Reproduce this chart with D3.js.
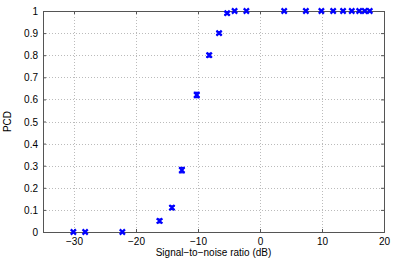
<!DOCTYPE html>
<html><head><meta charset="utf-8">
<script src="https://cdn.jsdelivr.net/npm/d3@7"></script>
<style>body{margin:0;background:#fff}svg{display:block}text{font-family:"Liberation Sans",Arial,sans-serif;fill:#000}</style>
</head><body><svg id="c" width="398" height="266"></svg>
<script>
const snr = [-30.1,-28.2,-22.2,-16.2,-14.2,-12.6,-10.2,-8.2,-6.6,-5.3,-4.1,-2.2,3.9,7.4,9.9,11.8,13.4,14.8,16.0,16.9,17.7];
const pcd = [0,0,0,0.05,0.11,0.28,0.62,0.80,0.90,0.99,1,1,1,1,1,1,1,1,1,1,1];
const err = [0,0,0,0.008,0.008,0.012,0.012,0.008,0.006,0.006,0,0,0,0,0,0,0,0,0,0,0];
const xTicks = [-30,-20,-10,0,10,20];
const yTicks = [0,0.1,0.2,0.3,0.4,0.5,0.6,0.7,0.8,0.9,1];
const xLabel = "Signal\u2212to\u2212noise ratio (dB)";
const yLabel = "PCD";

const L=43,R=384,T=11,B=232;
const svg=d3.select("#c");
const x=d3.scaleLinear().domain([-35,20]).range([L,R]);
const y=d3.scaleLinear().domain([0,1]).range([B,T]);
const fmtX=d=>d<0?"\u2212"+Math.abs(d):String(d);
const fmtY=d=>d===0?"0":d===1?"1":d3.format(".1f")(d);

// grid
const g=svg.append("g");
g.selectAll(".gx").data(xTicks.filter(d=>d<20)).join("line")
 .attr("x1",d=>Math.round(x(d))+0.5).attr("x2",d=>Math.round(x(d))+0.5).attr("y1",T).attr("y2",B)
 .attr("stroke","#bbb").attr("stroke-dasharray","1,2");
g.selectAll(".gy").data(yTicks.filter(d=>d>0&&d<1)).join("line")
 .attr("y1",d=>Math.round(y(d))+0.5).attr("y2",d=>Math.round(y(d))+0.5).attr("x1",L).attr("x2",R)
 .attr("stroke","#bbb").attr("stroke-dasharray","1,2");

// axes
const ax=svg.append("g").attr("transform",`translate(0,${B})`)
 .call(d3.axisBottom(x).tickValues(xTicks).tickSize(-3).tickPadding(6).tickFormat(fmtX));
const ay=svg.append("g").attr("transform",`translate(${L},0)`)
 .call(d3.axisLeft(y).tickValues(yTicks).tickSize(-3).tickPadding(5).tickFormat(fmtY));
const axT=svg.append("g").attr("transform",`translate(0,${T})`)
 .call(d3.axisTop(x).tickValues(xTicks).tickSize(-3).tickFormat(""));
const ayR=svg.append("g").attr("transform",`translate(${R},0)`)
 .call(d3.axisRight(y).tickValues(yTicks).tickSize(-3).tickFormat(""));
[ax,ay,axT,ayR].forEach(a=>{
 a.select(".domain").attr("stroke","#555");
 a.selectAll(".tick line").attr("stroke","#555");
 a.selectAll("text").attr("font-size","10px").attr("font-family","Liberation Sans,Arial,sans-serif");
});
ay.selectAll(".tick text").attr("dy","0.35em");

// labels
svg.append("text").attr("x",(L+R)/2).attr("y",256).attr("text-anchor","middle").attr("font-size","10px").text(xLabel);
svg.append("text").attr("transform",`translate(11,${(T+B)/2}) rotate(-90)`).attr("text-anchor","middle").attr("font-size","10px").text(yLabel);

// error bars
const data=snr.map((s,i)=>({s,p:pcd[i],e:err[i]}));
const eb=svg.append("g").attr("stroke","#00f").attr("stroke-width",1.3);
data.filter(d=>d.e>0).forEach(d=>{
 eb.append("line").attr("x1",x(d.s)).attr("x2",x(d.s)).attr("y1",y(d.p-d.e)).attr("y2",y(d.p+d.e));
 [d.p-d.e,d.p+d.e].forEach(v=>eb.append("line").attr("x1",x(d.s)-3).attr("x2",x(d.s)+3).attr("y1",y(v)).attr("y2",y(v)));
});
// markers
const m=svg.append("g").attr("stroke","#00f").attr("stroke-width",2.2);
data.forEach(d=>{
 const cx=x(d.s),cy=y(d.p),r=2.6;
 m.append("path").attr("d",`M${cx-r},${cy-r}L${cx+r},${cy+r}M${cx-r},${cy+r}L${cx+r},${cy-r}`);
});
</script></body></html>
